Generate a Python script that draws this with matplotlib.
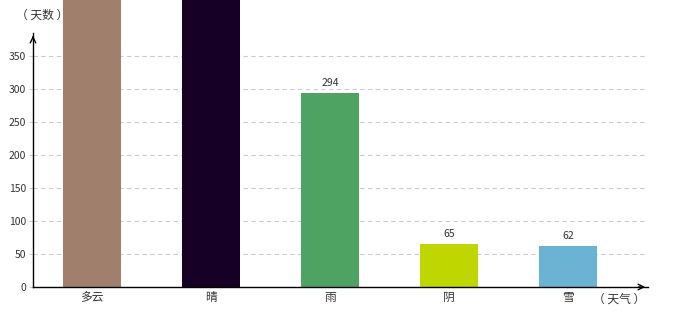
import matplotlib
matplotlib.use("Agg")
import matplotlib.pyplot as plt

plt.rcParams['font.family'] = ['Noto Sans CJK SC', 'DejaVu Sans']

# data
categories = ['多云', '晴', '雨', '阴', '雪']
days = [460, 480, 294, 65, 62]   # first two bars run off the top of the chart
show_labels = [False, False, True, True, True]
colors = ['#a07f6c', '#170026', '#4fa362', '#c0d600', '#6ab3d3']
yticks = [0, 50, 100, 150, 200, 250, 300, 350]

fig = plt.figure(figsize=(6.8, 3.2), dpi=100)
ax = fig.add_axes([33 / 680, 33 / 320, 615 / 680, 254 / 320])

x = list(range(len(categories)))
bars = ax.bar(x, days, width=0.49, color=colors, clip_on=False, zorder=3)

for b, v, show in zip(bars, days, show_labels):
    if show:
        ax.text(b.get_x() + b.get_width() / 2, v + 7, str(v),
                ha='center', va='bottom', fontsize=7.5, color='#333333')

ax.set_xlim(-0.496, 4.67)
ax.set_ylim(0, 384.8)
ax.set_yticks(yticks)
ax.set_yticklabels([str(t) for t in yticks])
ax.set_xticks(x)
ax.set_xticklabels(categories)
ax.tick_params(axis='y', length=3, width=0.8, color='#cccccc', labelsize=7.5,
               labelcolor='#333333', pad=2)
ax.tick_params(axis='x', length=0, labelsize=8.5, labelcolor='#333333', pad=3)

ax.grid(axis='y', linestyle=(0, (4, 3)), color='#cccccc', linewidth=0.8, zorder=0)
for s in ['top', 'right']:
    ax.spines[s].set_visible(False)
for s in ['left', 'bottom']:
    ax.spines[s].set_color('black')
    ax.spines[s].set_linewidth(1)
    ax.spines[s].set_zorder(4)

# axis arrows
ax.annotate('', xy=(0, 1.0), xytext=(0, 0.97), xycoords='axes fraction',
            arrowprops=dict(arrowstyle='->', color='black', lw=1))
ax.annotate('', xy=(1.0, 0), xytext=(0.98, 0), xycoords='axes fraction',
            arrowprops=dict(arrowstyle='->', color='black', lw=1))

fig.text(42 / 680, 1 - 15 / 320, '（ 天数 ）', ha='center', va='center',
         fontsize=8.5, color='#333333')
fig.text(619 / 680, 1 - 299 / 320, '（ 天气 ）', ha='center', va='center',
         fontsize=8.5, color='#333333')

fig.savefig('out.png', dpi=100)
